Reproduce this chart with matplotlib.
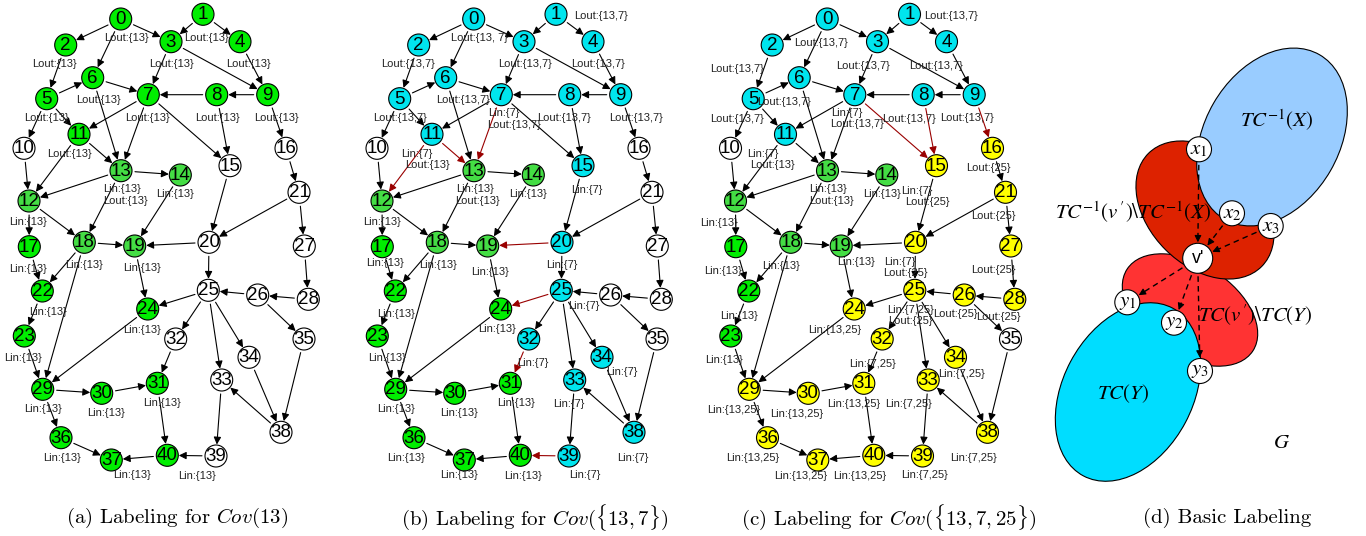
import numpy as np
import matplotlib
matplotlib.use("Agg")
import matplotlib.pyplot as plt
from matplotlib.patches import Circle, Ellipse

plt.rcParams['font.family'] = ['Liberation Sans', 'DejaVu Sans']

""" Graph data (layout read from panel (a), pixel units) """

node_x = [120.7, 203, 65.7, 171, 240, 46.7, 92.7, 148.3, 216.7, 267.7,
          24, 79, 29, 121, 180.3, 230, 286, 29.3, 84.3, 134.7,
          209, 299, 42.3, 24.3, 147.7, 208.3, 257.7, 304.3, 308.3, 42.7,
          101.7, 157.3, 175.7, 221.7, 249, 304, 61, 111.3, 281, 216, 167.3]
node_y = [19, 14.3, 45, 41.7, 41.7, 98.7, 77.7, 94.7, 94.7, 94.7,
          148.3, 134.3, 201, 170.7, 175, 165.7, 148.3, 246.7, 242.3, 246,
          242.3, 192.3, 291, 336, 309, 290.3, 295, 246, 299.3, 389.3,
          393.3, 383.3, 339, 380, 357.3, 339, 437.7, 460, 432.3, 456, 455.3]

edges = [(0, 2), (0, 3), (0, 6), (1, 3), (1, 4), (2, 5), (3, 7), (3, 9), (4, 9),
         (5, 6), (5, 11), (5, 10), (6, 7), (6, 13), (7, 11), (7, 13), (7, 15),
         (8, 7), (8, 15), (9, 8), (9, 16), (10, 12), (11, 12), (11, 13),
         (12, 17), (12, 18), (13, 12), (13, 14), (13, 18), (14, 19), (15, 20),
         (16, 21), (21, 20), (21, 27), (17, 22), (18, 22), (18, 19), (18, 29),
         (19, 24), (20, 19), (20, 25), (27, 28), (28, 26), (26, 25), (26, 35),
         (25, 24), (25, 32), (25, 33), (25, 34), (22, 23), (23, 29), (24, 29),
         (32, 31), (29, 30), (29, 36), (30, 31), (31, 40), (34, 38), (35, 38),
         (38, 33), (33, 39), (39, 40), (40, 37), (36, 37)]

panel_offset = [0, 353, 706.5]

# node groups per panel
light_green = [12, 13, 14, 18, 19]
green_a = [0, 1, 2, 3, 4, 5, 6, 7, 8, 9, 11, 17, 22, 23, 24, 29, 30, 31, 36, 37, 40]
cyan_b = [0, 1, 2, 3, 4, 5, 6, 7, 8, 9, 11, 15, 20, 25, 32, 33, 34, 38, 39]
green_b = [17, 22, 23, 24, 29, 30, 31, 36, 37, 40]
cyan_c = [0, 1, 2, 3, 4, 5, 6, 7, 8, 9, 11]
green_c = [17, 22, 23]
yellow_c = [15, 16, 20, 21, 24, 25, 26, 27, 28, 29, 30, 31, 32, 33, 34, 36, 37, 38, 39, 40]

red_b = [(11, 12), (11, 13), (7, 13), (20, 19), (25, 24), (32, 31), (39, 40)]
red_c = [(7, 15), (8, 15), (9, 16)]

labels_a = [("Lout:{13}", 126, 37.7), ("Lout:{13}", 206.7, 37.7), ("Lout:{13}", 54.3, 64.3),
            ("Lout:{13}", 171.7, 64.3), ("Lout:{13}", 248.3, 64.3), ("Lout:{13}", 98.3, 100),
            ("Lout:{13}", 46.7, 118.3), ("Lout:{13}", 147.7, 118.3), ("Lout:{13}", 217.3, 118.3),
            ("Lout:{13}", 276, 118.3), ("Lout:{13}", 69.3, 154), ("Lin:{13}", 121.7, 189.3),
            ("Lout:{13}", 125, 201), ("Lin:{13}", 175, 194.3), ("Lin:{13}", 28.3, 221.7),
            ("Lin:{13}", 28.3, 269.3), ("Lin:{13}", 84.3, 265), ("Lin:{13}", 142.3, 267.7),
            ("Lin:{13}", 47.7, 312.3), ("Lin:{13}", 142.3, 330), ("Lin:{13}", 23.3, 358.3),
            ("Lin:{13}", 43.3, 409), ("Lin:{13}", 106, 413.3), ("Lin:{13}", 162.3, 403.3),
            ("Lin:{13}", 61.7, 457.7), ("Lin:{13}", 132.3, 475), ("Lin:{13}", 196.7, 475.7)]

labels_b = [("Lout:{13, 7}", 479.3, 37.7), ("Lout:{13,7}", 601, 15.7), ("Lout:{13,7}", 408.3, 64.3),
            ("Lout:{13,7}", 525, 64.3), ("Lout:{13,7}", 598.3, 64.3), ("Lout:{13,7}", 463.3, 100),
            ("Lout:{13,7}", 400, 118.3), ("Lin:{7}", 504.3, 113.3), ("Lout:{13,7}", 514.3, 125),
            ("Lout:{13,7}", 564, 118.3), ("Lout:{13,7}", 635.7, 118.3), ("Lin:{7}", 417.3, 154),
            ("Lout:{13}", 427.3, 165), ("Lin:{13}", 475, 189.3), ("Lout:{13}", 477.7, 201),
            ("Lin:{13}", 528.3, 194.3), ("Lin:{7}", 586.7, 190), ("Lin:{13}", 381.7, 221.7),
            ("Lin:{13}", 385, 263.3), ("Lin:{13}", 438.3, 265), ("Lin:{13}", 490, 272.3),
            ("Lin:{7}", 562.3, 265), ("Lin:{7}", 584.3, 305.7), ("Lin:{13}", 396, 314.3),
            ("Lin:{13}", 497.3, 329), ("Lin:{13}", 386.7, 358.3), ("Lin:{7}", 532.7, 363.3),
            ("Lin:{7}", 621.7, 372.3), ("Lin:{7}", 569.3, 404), ("Lin:{13}", 515.7, 403.3),
            ("Lin:{13}", 396, 409), ("Lin:{13}", 459, 413.3), ("Lin:{7}", 633.3, 457.7),
            ("Lin:{13}", 405.7, 457.7), ("Lin:{13}", 459.3, 475), ("Lin:{13}", 522.7, 475.7),
            ("Lin:{7}", 585, 475)]

labels_c = [("Lout:{13,7}", 950.7, 15.7), ("Lout:{13,7}", 820.7, 43.3), ("Lout:{13,7}", 736.7, 69.3),
            ("Lout:{13,7}", 862.7, 66), ("Lout:{13,7}", 935.7, 66), ("Lout:{13,7}", 784.3, 101.7),
            ("Lout:{13,7}", 737.3, 119.3), ("Lin:{7}", 846.7, 113.3), ("Lout:{13,7}", 857.3, 124.3),
            ("Lout:{13,7}", 908.7, 119.3), ("Lout:{13,7}", 967.3, 118.3), ("Lin:{7}", 762.7, 154),
            ("Lout:{13}", 772.7, 165), ("Lin:{13}", 828.3, 189.3), ("Lout:{13}", 831.7, 201),
            ("Lin:{13}", 881.7, 194.3), ("Lin:{7}", 917.3, 191), ("Lout:{25}", 927.3, 201.7),
            ("Lout:{25}", 988.3, 167.7), ("Lout:{25}", 993.3, 216), ("Lin:{13}", 719.3, 222.7),
            ("Lin:{13}", 723.3, 271), ("Lin:{13}", 780.7, 266), ("Lin:{13}", 856, 262.3),
            ("Lin:{7}", 900, 262.3), ("Lout:{25}", 905.7, 273.3), ("Lout:{25}", 993.3, 270),
            ("Lin:{7,25}", 910.7, 310), ("Lout:{25}", 910, 320.7), ("Lout:{25}", 955.7, 314.3),
            ("Lout:{25}", 998.3, 316.7), ("Lin:{13}", 739, 315.7), ("Lin:{13,25}", 835, 330),
            ("Lin:{13}", 724.3, 360), ("Lin:{7,25}", 872.3, 364.3), ("Lin:{7,25}", 961.7, 374),
            ("Lin:{7,25}", 909, 404.3), ("Lin:{13,25}", 853.3, 404.3), ("Lin:{13,25}", 734, 410),
            ("Lin:{13,25}", 796.7, 414.3), ("Lin:{7,25}", 973.3, 458.3), ("Lin:{13,25}", 752.3, 458.3),
            ("Lin:{13,25}", 801, 476), ("Lin:{13,25}", 860, 476), ("Lin:{7,25}", 925, 475)]

captions = [r"(a) Labeling for $Cov(13)$", r"(b) Labeling for $Cov(\{13,7\})$",
            r"(c) Labeling for $Cov(\{13,7,25\})$", "(d) Basic Labeling"]
caption_x = [177, 535, 889, 1227]

# panel (d)
d_nodes = ["$x_1$", "$x_2$", "$x_3$", "v'", "$y_1$", "$y_2$", "$y_3$"]
d_x = [1199, 1232, 1270.7, 1197.7, 1127.3, 1174, 1200]
d_y = [149.3, 213.3, 226, 258.3, 302.3, 322.7, 371]
d_edges = [(0, 3), (1, 3), (2, 3), (3, 4), (3, 5), (3, 6)]

PX = 0.72   # points per pixel at dpi 100
R = 11.0

fig = plt.figure(figsize=(13.66, 5.36), dpi=100)
ax = fig.add_axes([0, 0, 1, 1])
ax.set_xlim(0, 1366)
ax.set_ylim(536, 0)
ax.axis("off")


def node_color(panel, n):
    if panel == 0:
        if n in light_green:
            return "#44dd44"
        return "#00ee00" if n in green_a else "white"
    if panel == 1:
        if n in cyan_b:
            return "#00e5ee"
        if n in light_green:
            return "#44dd44"
        return "#00ee00" if n in green_b else "white"
    if n in cyan_c:
        return "#00e5ee"
    if n in light_green:
        return "#44dd44"
    if n in green_c:
        return "#00ee00"
    return "#ffff00" if n in yellow_c else "white"


def arrow(x0, y0, x1, y1, color="black", ra=R, rb=R):
    ax.annotate("", xy=(x1, y1), xytext=(x0, y0),
                arrowprops=dict(arrowstyle="-|>", color=color, lw=0.8,
                                shrinkA=(ra + 3) * PX, shrinkB=(rb + 0.5) * PX,
                                mutation_scale=11))


red_sets = [[], red_b, red_c]
label_sets = [labels_a, labels_b, labels_c]

for p in range(3):
    off = panel_offset[p]
    xs = np.array(node_x) + off
    ys = np.array(node_y)
    for (u, v) in edges:
        col = "#990000" if (u, v) in red_sets[p] else "black"
        arrow(xs[u], ys[u], xs[v], ys[v], color=col)
    for n in range(len(node_x)):
        ax.add_patch(Circle((xs[n], ys[n]), R, facecolor=node_color(p, n),
                            edgecolor="black", lw=0.8, zorder=3))
        ax.text(xs[n], ys[n] + 0.5, str(n), ha="center", va="center",
                fontsize=13.5, zorder=4)
    for (txt, lx, ly) in label_sets[p]:
        ax.text(lx, ly, txt, ha="center", va="center", fontsize=8,
                color="#222222", zorder=5)

# panel (d) regions
ax.add_patch(Ellipse((1190, 310), 92, 150, angle=-57, facecolor="#ff3333",
                     edgecolor="black", lw=0.8, zorder=1))
ax.add_patch(Ellipse((1205, 210), 112, 160, angle=-45, facecolor="#dd2200",
                     edgecolor="black", lw=0.8, zorder=1.2))
ax.add_patch(Ellipse((1272, 137), 135, 190, angle=30, facecolor="#99ccff",
                     edgecolor="black", lw=0.8, zorder=1.4))
ax.add_patch(Ellipse((1128, 392), 130, 190, angle=28, facecolor="#00ddff",
                     edgecolor="black", lw=0.8, zorder=1.6))

for (u, v) in d_edges:
    ru = 15 if u == 3 else 12.5
    rv = 15 if v == 3 else 12.5
    dx, dy = d_x[v] - d_x[u], d_y[v] - d_y[u]
    L = np.hypot(dx, dy)
    ux, uy = dx / L, dy / L
    sx, sy = d_x[u] + ux * (ru + 3), d_y[u] + uy * (ru + 3)
    ex, ey = d_x[v] - ux * (rv + 1), d_y[v] - uy * (rv + 1)
    ax.plot([sx, ex - ux * 5], [sy, ey - uy * 5], color="black", lw=1.0,
            dashes=(4, 3), zorder=2)
    ax.annotate("", xy=(ex, ey), xytext=(ex - ux * 6, ey - uy * 6),
                arrowprops=dict(arrowstyle="-|>", color="black", lw=0.8,
                                shrinkA=0, shrinkB=0, mutation_scale=10), zorder=2)

for i, lab in enumerate(d_nodes):
    r = 15 if i == 3 else 12.5
    ax.add_patch(Circle((d_x[i], d_y[i]), r, facecolor="white", edgecolor="black",
                        lw=0.8, zorder=3))
    if i == 3:
        ax.text(d_x[i], d_y[i], lab, ha="center", va="center", fontsize=13, zorder=4)
    else:
        ax.text(d_x[i], d_y[i], lab, ha="center", va="center", fontsize=15,
                math_fontfamily="stix", zorder=4)

ax.text(1277, 120, r"$TC^{-1}(X)$", ha="center", va="center", fontsize=15,
        math_fontfamily="stix", zorder=5)
ax.text(1133, 212, r"$TC^{-1}(v\,')\backslash TC^{-1}(X)$", ha="center", va="center",
        fontsize=15, math_fontfamily="stix", zorder=5)
ax.text(1255, 315, r"$TC(v\,')\backslash TC(Y)$", ha="center", va="center", fontsize=15,
        math_fontfamily="stix", zorder=5)
ax.text(1123, 394, r"$TC(Y)$", ha="center", va="center", fontsize=15,
        math_fontfamily="stix", zorder=5)
ax.text(1282, 442, r"$G$", ha="center", va="center", fontsize=15,
        math_fontfamily="stix", zorder=5)

for cx, cap in zip(caption_x, captions):
    ax.text(cx, 518, cap, ha="center", va="center", fontsize=15, family="cmr10",
            math_fontfamily="cm")

fig.savefig("out.png", dpi=100)
